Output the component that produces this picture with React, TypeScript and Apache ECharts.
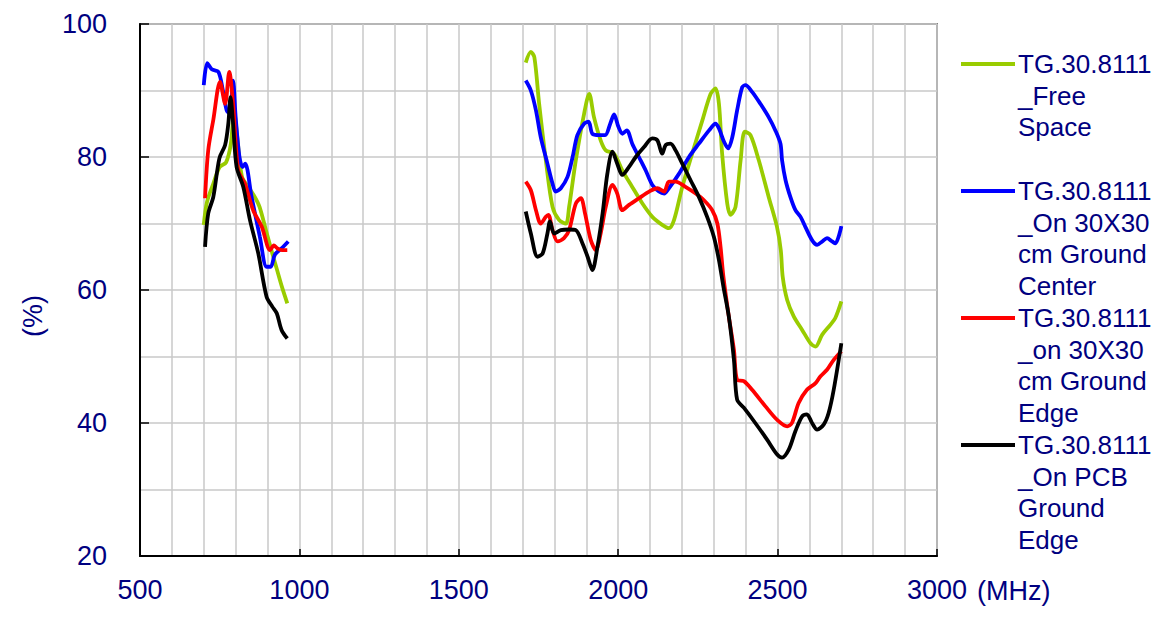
import React, { useEffect, useRef } from "react";
import * as echarts from "echarts";

const seriesNames = [
  "TG.30.8111_Free Space",
  "TG.30.8111_On 30X30 cm Ground Center",
  "TG.30.8111_on 30X30 cm Ground Edge",
  "TG.30.8111_On PCB Ground Edge",
];
const legendLabels = [
  "TG.30.8111\n_Free\nSpace",
  "TG.30.8111\n_On 30X30\ncm Ground\nCenter",
  "TG.30.8111\n_on 30X30\ncm Ground\nEdge",
  "TG.30.8111\n_On PCB\nGround\nEdge",
];
const colors = ["#99CC00", "#0000FF", "#FF0000", "#000000"];

const xTicks = [500, 1000, 1500, 2000, 2500, 3000];
const yTicks = [20, 40, 60, 80, 100];
const xUnit = "(MHz)";
const yUnit = "(%)";

// Free space – low band / high band
const freeLow = [
  [700, 69.8], [710, 73.2], [730, 76], [750, 78.5], [770, 79.2], [785, 82], [795, 87],
  [805, 83], [820, 77], [840, 75.5], [860, 74], [875, 72.5], [895, 69], [915, 65.5],
  [930, 63], [945, 60.5], [962, 58],
];
const freeHigh = [
  [1710, 94.2], [1726, 95.8], [1737, 95], [1752, 88], [1773, 79.5], [1794, 72.5], [1815, 70.5],
  [1836, 70], [1846, 72.5], [1867, 79.5], [1893, 86.5], [1909, 89.5], [1924, 86], [1945, 82.5],
  [1961, 81], [1987, 80.5], [2013, 78], [2044, 75.5], [2076, 73], [2107, 71], [2138, 69.8],
  [2159, 69.3], [2175, 70.5], [2201, 75.5], [2232, 80.5], [2264, 85.5], [2290, 89.5], [2305, 90.3],
  [2316, 88], [2326, 80.5], [2342, 73], [2352, 71.3], [2368, 72.5], [2384, 79.5], [2397, 83.8],
  [2415, 83.3], [2441, 79.5], [2472, 74], [2498, 69.5], [2510, 66], [2516, 62], [2530, 58.5],
  [2551, 56], [2577, 54], [2603, 52], [2619, 51.5], [2640, 53.3], [2666, 54.8], [2681, 55.8],
  [2700, 58.3],
];

// On 30x30 cm ground center
const centerLow = [
  [700, 90.8], [711, 94.1], [725, 93.2], [746, 92.8], [760, 90], [772, 87], [782, 86.5],
  [792, 91.5], [800, 86], [812, 80], [822, 78.5], [830, 79], [850, 74], [876, 68], [897, 63.5],
  [910, 63.5], [923, 65.3], [945, 66.3], [965, 67.3],
];
const centerHigh = [
  [1710, 91.5], [1726, 90], [1742, 87], [1757, 83], [1778, 79], [1794, 76], [1804, 74.8],
  [1820, 75.3], [1841, 77], [1857, 80], [1872, 83.3], [1893, 85], [1907, 85.3], [1919, 83.5],
  [1940, 83.3], [1959, 83.3], [1975, 85], [1987, 86.4], [2001, 84.5], [2013, 83.5], [2027, 84],
  [2044, 82], [2065, 80], [2086, 78], [2107, 75.8], [2128, 74.8], [2144, 74.5], [2159, 75.3],
  [2191, 77.5], [2222, 80], [2253, 82], [2285, 84], [2305, 85], [2316, 84.3], [2332, 82.3],
  [2345, 81.3], [2358, 83], [2373, 87], [2389, 90.5], [2399, 90.8], [2420, 89.8], [2446, 88],
  [2472, 86], [2493, 84], [2509, 82], [2514, 79.5], [2525, 76.5], [2540, 74], [2556, 72],
  [2572, 71], [2587, 69.5], [2608, 67.5], [2624, 66.8], [2640, 67.3], [2655, 67.8], [2671, 67.3],
  [2681, 67], [2700, 69.6],
];

// On 30x30 cm ground edge
const edgeLow = [
  [704, 73.8], [714, 81], [730, 85.6], [751, 91.3], [767, 88], [780, 92.8], [792, 88],
  [808, 78], [829, 76], [855, 72], [882, 69.5], [908, 66], [920, 66.7], [930, 66.3],
  [945, 66], [962, 66],
];
const edgeHigh = [
  [1710, 76.3], [1726, 75], [1742, 72], [1757, 70], [1773, 71], [1781, 71.3], [1794, 69],
  [1810, 67.3], [1830, 67.8], [1846, 69], [1867, 73], [1883, 73.8], [1896, 71.5], [1914, 67.5],
  [1930, 66], [1945, 68.5], [1961, 72.5], [1982, 75.8], [1997, 74.5], [2013, 72], [2034, 72.8],
  [2065, 73.8], [2097, 74.8], [2123, 75.3], [2144, 74.8], [2159, 76.3], [2180, 76.3], [2211, 75.5],
  [2243, 74.5], [2269, 73.5], [2295, 72], [2311, 70], [2321, 66.5], [2330, 62], [2347, 56],
  [2363, 51], [2373, 46.5], [2394, 46.3], [2420, 45], [2462, 42.5], [2498, 40.5], [2530, 39.5],
  [2545, 40], [2566, 43], [2592, 45], [2619, 46], [2634, 47], [2655, 48], [2676, 49.5], [2700, 50.8],
];

// On PCB ground edge
const pcbLow = [
  [704, 66.5], [714, 71.5], [730, 74], [749, 79.8], [767, 81.8], [777, 85], [784, 89],
  [792, 85], [803, 78.5], [824, 75.5], [845, 70.5], [871, 65.5], [897, 59], [915, 57.5],
  [929, 56.5], [944, 54], [962, 52.7],
];
const pcbHigh = [
  [1710, 71.8], [1726, 68.5], [1747, 65], [1763, 65.5], [1778, 68.5], [1786, 70.3], [1799, 68.5],
  [1820, 69], [1846, 69.1], [1867, 69], [1888, 67], [1904, 65], [1919, 63], [1935, 66.5],
  [1951, 71.5], [1966, 77.5], [1982, 80.8], [1997, 79], [2013, 77.3], [2034, 78.5], [2055, 80],
  [2081, 81.5], [2107, 82.8], [2123, 82.5], [2138, 80.5], [2149, 81.8], [2164, 82], [2180, 81],
  [2201, 79], [2227, 76.5], [2253, 74], [2279, 71], [2300, 68], [2316, 64.5], [2330, 60.5],
  [2347, 56], [2363, 49.5], [2373, 43.5], [2394, 42.3], [2430, 40], [2467, 37.5], [2498, 35.3],
  [2514, 34.8], [2535, 36], [2556, 38.8], [2577, 41], [2592, 41.3], [2608, 40], [2624, 39],
  [2645, 39.8], [2660, 41.5], [2676, 45], [2700, 52],
];

const lowBands = [freeLow, centerLow, edgeLow, pcbLow];
const highBands = [freeHigh, centerHigh, edgeHigh, pcbHigh];

const TEXT = "#000080";
const FONT = "'Liberation Sans', Arial, sans-serif";

export default function App() {
  const ref = useRef<HTMLDivElement>(null);
  useEffect(() => {
    if (!ref.current) return;
    const chart = echarts.init(ref.current, null, { renderer: "svg" });
    const series = seriesNames.map((name, i) => ({
      name,
      type: "line",
      data: [...lowBands[i], [1300, "-"], ...highBands[i]],
      showSymbol: false,
      symbol: "none",
      smooth: 0.3,
      connectNulls: false,
      lineStyle: { color: colors[i], width: 3.8 },
      itemStyle: { color: colors[i] },
      z: 2 + i,
    }));
    const graphics: any[] = [];
    legendLabels.forEach((lbl, i) => {
      const y = 64 + 127 * i;
      graphics.push({
        type: "line",
        shape: { x1: 961, y1: y, x2: 1015, y2: y },
        style: { stroke: colors[i], lineWidth: 4 },
      });
      graphics.push({
        type: "text",
        x: 1018,
        y: y - 16,
        style: {
          text: lbl,
          fill: TEXT,
          font: `26px ${FONT}`,
          lineHeight: 31.7,
          verticalAlign: "top",
          textAlign: "left",
        },
      });
    });
    graphics.push({
      type: "text",
      x: 33,
      y: 316,
      rotation: Math.PI / 2,
      style: {
        text: yUnit,
        fill: TEXT,
        font: `27px ${FONT}`,
        textAlign: "center",
        verticalAlign: "middle",
      },
    });
    graphics.push({
      type: "text",
      x: 977,
      y: 591,
      style: {
        text: xUnit,
        fill: TEXT,
        font: `27px ${FONT}`,
        textAlign: "left",
        verticalAlign: "middle",
      },
    });
    chart.setOption({
      animation: false,
      backgroundColor: "#ffffff",
      grid: {
        left: 140,
        right: 231,
        top: 24,
        bottom: 62,
        show: true,
        borderColor: "#808080",
        borderWidth: 2,
      },
      xAxis: {
        type: "value",
        min: xTicks[0],
        max: xTicks[xTicks.length - 1],
        interval: 500,
        axisLine: { show: true, onZero: false, lineStyle: { color: "#000", width: 2 } },
        axisTick: { show: true, inside: true, length: 7, lineStyle: { color: "#000", width: 1.5 } },
        axisLabel: {
          color: TEXT,
          fontSize: 27,
          fontFamily: FONT,
          margin: 20,
          formatter: (v: number) => String(v),
        },
        splitLine: { show: true, lineStyle: { color: "#c8c8c8", width: 1.5 } },
        minorTick: { show: false, splitNumber: 5 },
        minorSplitLine: { show: true, lineStyle: { color: "#c8c8c8", width: 1.5 } },
      },
      yAxis: {
        type: "value",
        min: yTicks[0],
        max: yTicks[yTicks.length - 1],
        interval: 20,
        axisLine: { show: true, onZero: false, lineStyle: { color: "#000", width: 2 } },
        axisTick: { show: true, inside: true, length: 9, lineStyle: { color: "#000", width: 1.5 } },
        axisLabel: {
          color: TEXT,
          fontSize: 27,
          fontFamily: FONT,
          margin: 33,
          formatter: (v: number) => String(v),
        },
        splitLine: { show: true, lineStyle: { color: "#c8c8c8", width: 1.5 } },
        minorTick: { show: false, splitNumber: 2 },
        minorSplitLine: { show: true, lineStyle: { color: "#c8c8c8", width: 1.5 } },
      },
      legend: { show: false },
      series,
      graphic: graphics,
    });
    return () => chart.dispose();
  }, []);
  return (
    <div
      ref={ref}
      style={{ position: "fixed", left: 0, top: 0, width: 1168, height: 618, background: "#fff" }}
    />
  );
}
